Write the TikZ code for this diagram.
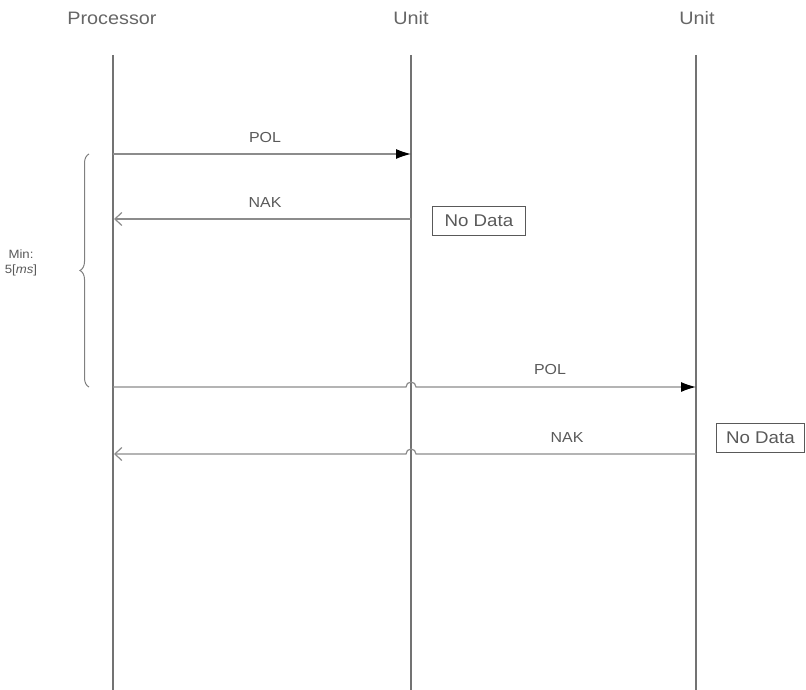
\documentclass[tikz,border=0pt]{standalone}
\usepackage{fontspec}
\setmainfont{Liberation Sans}[FakeStretch=1.1]
\usetikzlibrary{arrows.meta,decorations.pathreplacing}
\begin{document}
\begin{tikzpicture}[x=1pt,y=-1pt,
  lifeline/.style={draw=black!55,line width=1.2pt},
  msg/.style={draw=black!45,line width=1.2pt},
  sync/.style={msg,-{Latex[length=15pt,width=10pt,black]}},
  reply/.style={msg,-{Straight Barb[length=7pt,width=13pt,black!45]}},
  actor/.style={text=black!60,font=\fontsize{18}{21}\selectfont,inner sep=0pt},
  lbl/.style={text=black!65,font=\fontsize{14.5}{16}\selectfont,inner sep=0pt},
  notebox/.style={draw=black!65,line width=0.9pt,text=black!65,font=\fontsize{17}{19}\selectfont,inner sep=0pt,minimum height=29pt,anchor=west}]
\useasboundingbox (0,0) rectangle (806,690);
% actors
\node[actor] (pA) at (112,18) {Processor};
\node[actor] (uA) at (411,18) {Unit};
\node[actor] (uB) at (697,18) {Unit};
% lifelines
\coordinate (pT) at (113,55); \coordinate (pB) at (113,690);
\coordinate (aT) at (411,55); \coordinate (aB) at (411,690);
\coordinate (bT) at (696,55); \coordinate (bB) at (696,690);
\draw[lifeline] (pT) -- (pB);
\draw[lifeline] (aT) -- (aB);
\draw[lifeline] (bT) -- (bB);
% messages
\coordinate (m1s) at (113,154); \coordinate (m1e) at (411,154);
\draw[sync] (m1s) -- (m1e);
\node[lbl] (l1) at (265,138) {POL};
\coordinate (m2s) at (411,219); \coordinate (m2e) at (114,219);
\draw[reply] (m2s) -- (m2e);
\node[lbl] (l2) at (265,203) {NAK};
\node[notebox,minimum width=93pt] (nd1) at (432,221) {No Data};
% second POL with hop
\coordinate (m3s) at (113,387); \coordinate (m3e) at (696,387);
\coordinate (h3) at (406,387);
\draw[sync] (m3s) -- (h3) arc[start angle=180,end angle=360,radius=5] -- (m3e);
\node[lbl] (l3) at (550,370) {POL};
% second NAK with hop
\coordinate (m4s) at (696,454); \coordinate (m4e) at (114,454);
\coordinate (h4) at (416,454);
\draw[reply] (m4s) -- (h4) arc[start angle=0,end angle=-180,radius=5] -- (m4e);
\node[lbl] (l4) at (567,438) {NAK};
\node[notebox,minimum width=88pt] (nd2) at (716,438) {No Data};
% brace
\coordinate (bTop) at (89,154); \coordinate (bBot) at (89,387);
\draw[draw=black!50,line width=1pt,decorate,decoration={brace,amplitude=9pt}] (bBot) -- (bTop);
\node[lbl,align=center,font=\fontsize{12}{15}\selectfont] (mn) at (21,263) {Min:\\5[\textit{ms}]};
\end{tikzpicture}
\end{document}
